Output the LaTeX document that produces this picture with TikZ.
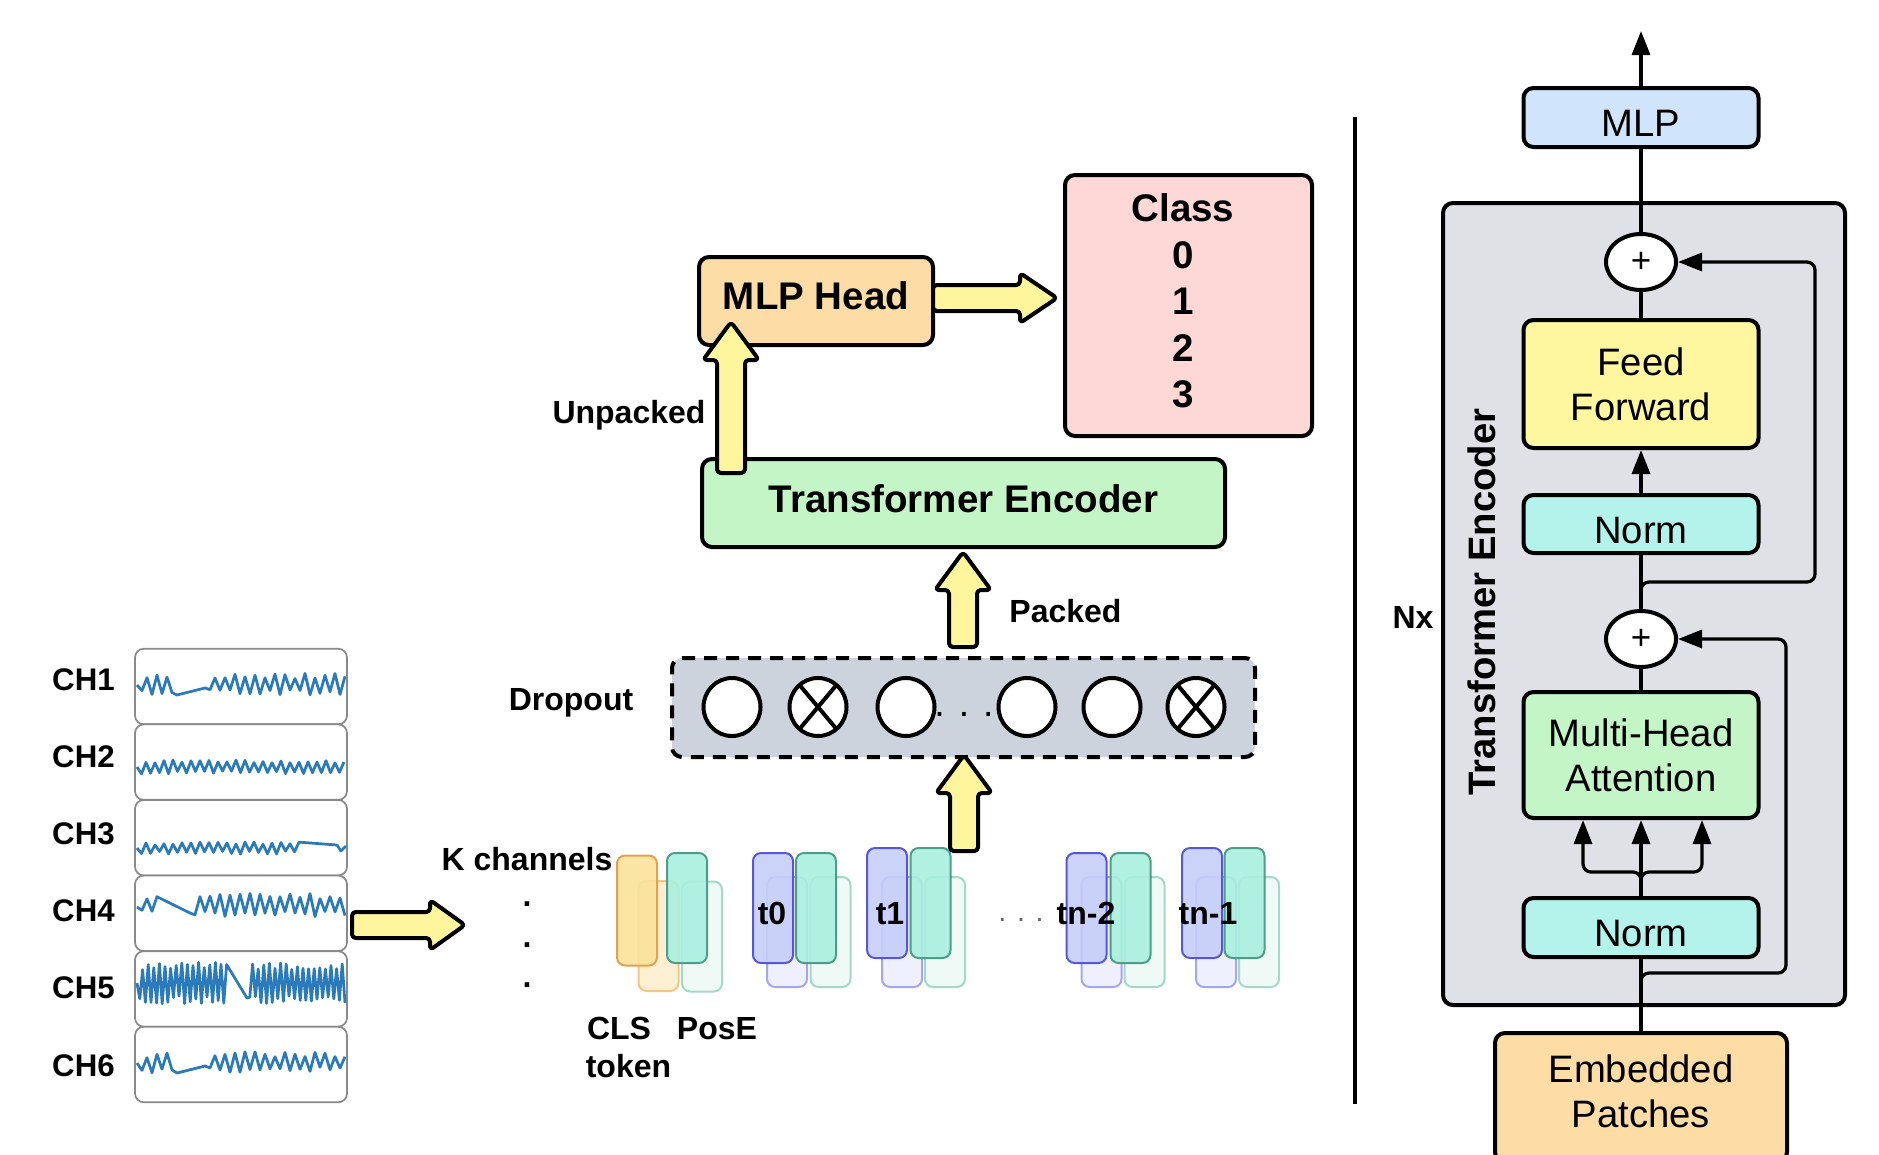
\documentclass[tikz,border=0pt]{standalone}
\usepackage{fontspec}
\setmainfont{Liberation Sans}
\usetikzlibrary{shapes.geometric,arrows.meta,calc}
\definecolor{fatY}{HTML}{FFF59D}
\definecolor{cMLPH}{HTML}{FDDCA5}
\definecolor{cClass}{HTML}{FED7D7}
\definecolor{cTE}{HTML}{C3F5C7}
\definecolor{cDrop}{HTML}{CCD3DC}
\definecolor{cMLP}{HTML}{D0E4FC}
\definecolor{cOuter}{HTML}{DFE1E6}
\definecolor{cFF}{HTML}{FFF6A0}
\definecolor{cNorm}{HTML}{B4F3EC}
\definecolor{cSig}{HTML}{2B7BBA}
\definecolor{cChan}{HTML}{8A8A8A}
\definecolor{oF}{HTML}{F9E29A}\definecolor{oD}{HTML}{E3A14F}
\definecolor{oBF}{HTML}{FDF0D2}\definecolor{oBD}{HTML}{F2C683}
\definecolor{gF}{HTML}{A9F0DF}\definecolor{gD}{HTML}{4E9D88}
\definecolor{gBF}{HTML}{EFFAF6}\definecolor{gBD}{HTML}{A3D9C9}
\definecolor{bF}{HTML}{C7CEF8}\definecolor{bD}{HTML}{5656DD}
\definecolor{bBF}{HTML}{EEF0FD}\definecolor{bBD}{HTML}{A5A6EF}
\newcommand\fatup[5]{\draw[fatarrow] let \p1=(#1), \p2=(#2) in
  (\x1-#3,\y1) -- (\x1-#3,\y2-#5) -- (\x1-#4,\y2-#5) -- (\x1,\y2) -- (\x1+#4,\y2-#5) -- (\x1+#3,\y2-#5) -- (\x1+#3,\y1) -- cycle;}
\newcommand\fatright[5]{\draw[fatarrow] let \p1=(#1), \p2=(#2) in
  (\x1,\y1+#3) -- (\x2-#5,\y1+#3) -- (\x2-#5,\y1+#4) -- (\x2,\y1) -- (\x2-#5,\y1-#4) -- (\x2-#5,\y1-#3) -- (\x1,\y1-#3) -- cycle;}
\begin{document}
\begin{tikzpicture}[x=0.4pt,y=-0.4pt,
  bigb/.style={font=\fontsize{15.4}{18.6}\selectfont\bfseries},
  smb/.style={font=\fontsize{12.8}{15}\selectfont\bfseries},
  rt/.style={font=\fontsize{15.3}{18}\selectfont},
  box/.style={draw, line width=1.6pt, rounded corners=4pt, inner sep=0pt, align=center},
  fatarrow/.style={draw, fill=fatY, line width=1.6pt, rounded corners=1.5pt, line join=round},
  chan/.style={draw=cChan, fill=white, line width=0.7pt, rounded corners=3.5pt, minimum width=84.8pt, minimum height=30.2pt, inner sep=0pt},
  sig/.style={draw=cSig, line width=1.1pt, line join=round},
  tok/.style={rounded corners=3.2pt, line width=0.8pt, minimum width=16pt, minimum height=44pt, inner sep=0pt},
  tkback/.style={tok},
  tkfront/.style={tok, fill opacity=0.9},
  drop/.style={draw, ellipse, fill=white, line width=1.6pt, minimum width=22.8pt, minimum height=23.2pt, inner sep=0pt, outer sep=0pt},
  ln/.style={line width=1.3pt},
  conn/.style={line width=1.3pt, -{Triangle[length=9.6pt,width=7.2pt]}},
  plus/.style={draw, ellipse, fill=white, line width=1.6pt, minimum width=28pt, minimum height=22.4pt, inner sep=0pt, font=\fontsize{14}{14}\selectfont}
]
\useasboundingbox (0,0) rectangle (1879,1154);
\pgfmathsetseed{7}

% ---------------- channels ----------------
\foreach \k/\c/\b in {1/686.5/690,2/762.1/767,3/837.7/844,4/913.3/921,5/988.9/998,6/1064.5/1076}{
  \node[chan] (ch\k) at (241,\c) {};
  \node[font=\fontsize{12.5}{15}\selectfont\bfseries, anchor=base] (chl\k) at (83.5,\b) {CH\k};
}
\draw[sig] (137,685) \foreach \i in {1,...,7} { -- ({137+5*\i},{685+(2*mod(\i,2)-1)*(5+5*rnd)}) } -- (177,695) -- (205,688)
  \foreach \i in {1,...,28} { -- ({205+5*\i},{684+(2*mod(\i,2)-1)*(5+6*rnd)}) };
\draw[sig] (137,767) \foreach \i in {1,...,46} { -- ({137+4.5*\i},{767+(2*mod(\i,2)-1)*(4+3*rnd)}) };
\draw[sig] (137,848) \foreach \i in {1,...,36} { -- ({137+4.5*\i},{848+(2*mod(\i,2)-1)*(3+3*rnd)}) } -- (337,845) -- (341,851) -- (346,846);
\draw[sig] (137,907) \foreach \i in {1,...,4} { -- ({137+5*\i},{905+(2*mod(\i,2)-1)*(5+5*rnd)}) } -- (190,913)
  \foreach \i in {1,...,31} { -- ({190+5*\i},{905+(2*mod(\i,2)-1)*(6+6*rnd)}) };
\draw[sig] (137,983) \foreach \i in {1,...,32} { -- ({137+2.8*\i},{983+(2*mod(\i,2)-1)*(13+8*rnd)}) } -- (247,998)
  \foreach \i in {1,...,35} { -- ({247+2.8*\i},{983+(2*mod(\i,2)-1)*(13+8*rnd)}) };
\draw[sig] (137,1063) \foreach \i in {1,...,7} { -- ({137+5*\i},{1063+(2*mod(\i,2)-1)*(5+5*rnd)}) } -- (177,1073) -- (205,1066)
  \foreach \i in {1,...,28} { -- ({205+5*\i},{1062+(2*mod(\i,2)-1)*(5+6*rnd)}) };

% channels -> tokens
\coordinate (chA) at (352,925);
\coordinate (chB) at (465,925);
\fatright{chA}{chB}{5.2pt}{10pt}{14pt}

\node[smb, anchor=base] (kch) at (527,870) {K channels};
\node[smb, anchor=base] (vd1) at (527,906) {.};
\node[smb, anchor=base] (vd2) at (527,947) {.};
\node[smb, anchor=base] (vd3) at (527,987) {.};

% ---------------- tokens ----------------
\node[tkback, fill=oBF, draw=oBD] (clsB) at (658.5,936) {};
\node[tkback, fill=gBF, draw=gBD] (posB) at (702,936.5) {};
\node[tkback, fill=bBF, draw=bBD] (t0bB) at (787,932) {};
\node[tkback, fill=gBF, draw=gBD] (t0gB) at (830.5,932) {};
\node[tkback, fill=bBF, draw=bBD] (t1bB) at (902,932) {};
\node[tkback, fill=gBF, draw=gBD] (t1gB) at (945,932) {};
\node[tkback, fill=bBF, draw=bBD] (t2bB) at (1101.5,932) {};
\node[tkback, fill=gBF, draw=gBD] (t2gB) at (1144.5,932) {};
\node[tkback, fill=bBF, draw=bBD] (t3bB) at (1216,932) {};
\node[tkback, fill=gBF, draw=gBD] (t3gB) at (1259,932) {};

\node[tkfront, fill=oF, draw=oD] (clsF) at (637,910.5) {};
\node[tkfront, fill=gF, draw=gD] (posF) at (687,908) {};
\node[tkfront, fill=bF, draw=bD] (t0bF) at (773,908) {};
\node[tkfront, fill=gF, draw=gD] (t0gF) at (816,908) {};
\node[tkfront, fill=bF, draw=bD] (t1bF) at (887,903) {};
\node[tkfront, fill=gF, draw=gD] (t1gF) at (930.5,903) {};
\node[tkfront, fill=bF, draw=bD] (t2bF) at (1086.5,908) {};
\node[tkfront, fill=gF, draw=gD] (t2gF) at (1130.5,908) {};
\node[tkfront, fill=bF, draw=bD] (t3bF) at (1202,903) {};
\node[tkfront, fill=gF, draw=gD] (t3gF) at (1244.5,903) {};

\node[smb, anchor=base] (lt0) at (772,924) {t0};
\node[smb, anchor=base] (lt1) at (890,924) {t1};
\node[smb, anchor=base] (lt2) at (1086,924) {tn-2};
\node[smb, anchor=base] (lt3) at (1208,924) {tn-1};
\node[font=\fontsize{11.5}{12}\selectfont, text=black!60, anchor=base] (tdots) at (1021,921) {. . .};

\node[smb, anchor=base] (lcls) at (619,1039) {CLS};
\node[smb, anchor=base] (ltok) at (628.5,1077) {token};
\node[smb, anchor=base] (lpos) at (717,1039) {PosE};

% ---------------- dropout ----------------
\node[draw, fill=cDrop, line width=1.6pt, dash pattern=on 5.2pt off 3.6pt, rounded corners=4pt,
      minimum width=233.2pt, minimum height=39.6pt, inner sep=0pt] (drop) at (963.5,707.5) {};
\node[drop] (c1) at (732,707) {};
\node[drop] (c2) at (818,707) {};
\node[drop] (c3) at (906,707) {};
\node[drop] (c4) at (1027,707) {};
\node[drop] (c5) at (1112,707) {};
\node[drop] (c6) at (1196,707) {};
\foreach \c in {c2,c6}{
  \draw[line width=1.6pt] (\c.50) -- (\c.230);
  \draw[line width=1.6pt] (\c.130) -- (\c.310);
}
\node[font=\fontsize{15}{15}\selectfont, anchor=base] (ddots) at (964,716) {. . .};
\node[smb, anchor=base] (ldrop) at (571,710) {Dropout};

% tokens -> dropout
\coordinate (tdA) at (964,851);
\coordinate (tdB) at (964,755);
\fatup{tdA}{tdB}{5.6pt}{11.2pt}{15.2pt}

% ---------------- transformer encoder / heads ----------------
\node[box, bigb, fill=cTE, minimum width=209.2pt, minimum height=35.2pt, text height=11pt, text depth=3.5pt] (te) at (963.5,503) {Transformer Encoder};
\coordinate (pkA) at (963,647);
\coordinate (pkB) at (963,552);
\fatup{pkA}{pkB}{5.6pt}{11.2pt}{15.2pt}
\node[smb, anchor=base] (lpk) at (1065.5,622) {Packed};

\node[box, bigb, fill=cMLPH, minimum width=93.6pt, minimum height=35.2pt, text height=11pt, text depth=4pt] (mlph) at (816,301) {MLP Head};
\node[box, bigb, fill=cClass, minimum width=98.8pt, minimum height=104.4pt] (cls) at (1188.5,305.5) {};
\node[bigb, align=center] (clstxt) at (1183,301) {Class\\0\\1\\2\\3};

\coordinate (upA) at (731,473);
\coordinate (upB) at (731,322);
\fatup{upA}{upB}{5.6pt}{11.2pt}{15.2pt}
\node[smb, anchor=base] (lup) at (629,423) {Unpacked};

\coordinate (mcA) at (933,298);
\coordinate (mcB) at (1057,298);
\fatright{mcA}{mcB}{5.2pt}{10pt}{14.8pt}

% separator
\coordinate (sepT) at (1355,117);
\coordinate (sepB) at (1355,1104);
\draw[line width=1.9pt] (sepT) -- (sepB);

% ---------------- right panel ----------------
\node[draw, fill=cOuter, line width=1.6pt, rounded corners=4pt, minimum width=160.8pt, minimum height=320.8pt, inner sep=0pt] (outer) at (1644,604) {};
\node[font=\fontsize{15.3}{18}\selectfont\bfseries, rotate=90] (lte) at (1482,602) {Transformer Encoder};
\node[smb, anchor=base] (lnx) at (1413,628) {Nx};

\node[box, rt, fill=cMLP, minimum width=94pt, minimum height=23.6pt, text height=15.4pt, text depth=0pt] (mlp) at (1641,117.5) {MLP};
\node[plus] (p1) at (1641,262) {+};
\node[box, rt, fill=cFF, minimum width=94pt, minimum height=51.2pt] (ff) at (1641,384) {Feed\\Forward};
\node[box, rt, fill=cNorm, minimum width=94pt, minimum height=23.2pt, text height=15.4pt, text depth=0pt] (n1) at (1641,524) {Norm};
\node[plus] (p2) at (1641,639) {+};
\node[box, rt, fill=cTE, minimum width=94pt, minimum height=50.4pt] (mha) at (1641,755) {Multi-Head\\Attention};
\node[box, rt, fill=cNorm, minimum width=94pt, minimum height=23.6pt, text height=15.4pt, text depth=0pt] (n2) at (1641,927.5) {Norm};
\node[box, fill=cMLPH, minimum width=116.8pt, minimum height=51.6pt] (emb) at (1641,1097.5) {};
\node[rt, align=center] (embtxt) at (1641,1091) {Embedded\\Patches};

\coordinate (out) at (1641,31);
\draw[conn] (mlp.north) -- (out);
\draw[ln] (p1.north) -- (mlp.south);
\draw[ln] (ff.north) -- (p1.south);
\draw[conn] (n1.north) -- (ff.south);
\draw[ln] (p2.north) -- (n1.south);
\draw[ln] (mha.north) -- (p2.south);
\draw[conn] (n2.north) -- (mha.south);
\draw[ln] (emb.north) -- (n2.south);

\coordinate (mL) at (1583,820);
\coordinate (mR) at (1702,820);
\coordinate (sp) at (1641,886);
\draw[conn, rounded corners=3.2pt] (sp) -- (1641,872) -- (1583,872) -- (mL);
\draw[conn, rounded corners=3.2pt] (sp) -- (1641,872) -- (1702,872) -- (mR);

\coordinate (r1) at (1641,596);
\draw[conn, rounded corners=3.2pt] (r1) -- (1641,582) -- (1815,582) -- (1815,262) -- (p1.east);
\coordinate (r2) at (1641,987);
\draw[conn, rounded corners=3.2pt] (r2) -- (1641,973) -- (1786,973) -- (1786,639) -- (p2.east);
\end{tikzpicture}
\end{document}
